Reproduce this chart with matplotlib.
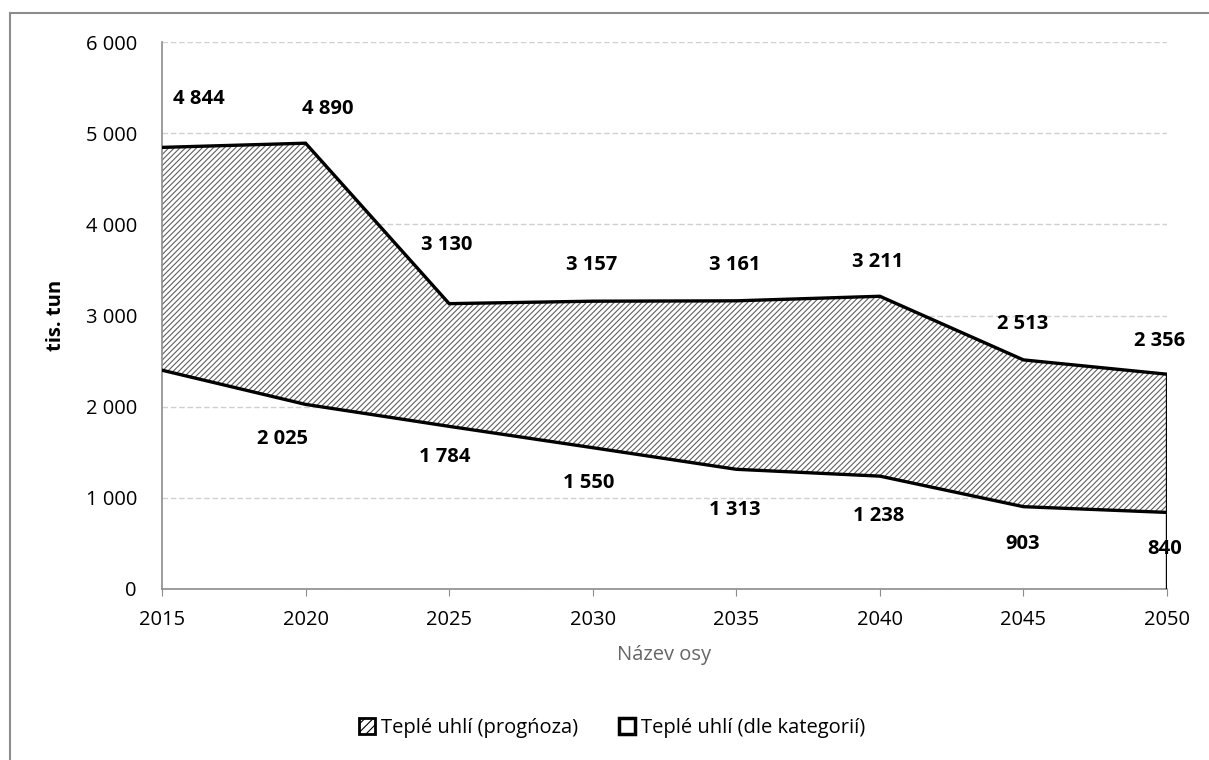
import numpy as np
import matplotlib
import matplotlib.pyplot as plt
from matplotlib.patches import Rectangle, Patch
from matplotlib.ticker import FuncFormatter

matplotlib.use("Agg")

# Teplé uhlí, tis. tun
roky = [2015, 2020, 2025, 2030, 2035, 2040, 2045, 2050]
prognoza = [4844, 4890, 3130, 3157, 3161, 3211, 2513, 2356]
dle_kategorii = [2400, 2025, 1784, 1550, 1313, 1238, 903, 840]
# 2015 hodnota dle kategorií se v grafu nepopisuje
popis_dole = [False, True, True, True, True, True, True, True]

# posuny popisků (px) – nad horní řadou / pod dolní řadou
posun_nahore = [48, 34, 59, 36, 36, 34, 36, 33]
posun_dole = [38, 35, 31, 35, 41, 40, 37, 37]
posun_x_nahore = [37, 22, -2, -1, -2, -2, -1, -7]
posun_x_dole = [0, -23, -4, -4, -2, -1, -1, -2]

FONT = ["Open Sans", "DejaVu Sans"]
plt.rcParams["font.family"] = FONT
plt.rcParams["hatch.linewidth"] = 0.8

W, H = 1209, 760
fig = plt.figure(figsize=(W / 100, H / 100), dpi=100)
ax = fig.add_axes([162 / W, 1 - 589 / H, (1167 - 162) / W, (589 - 42) / H])

x = np.array(roky)
horni = np.array(prognoza)
dolni = np.array(dle_kategorii)

# šrafovaná plocha mezi řadami
ax.fill_between(x, dolni, horni, facecolor="white", edgecolor="#606060",
                hatch="//////", linewidth=0, zorder=2)

# obrysy
ax.plot(x, horni, color="black", lw=2.4, solid_joinstyle="miter", zorder=4)
ax.plot(x, dolni, color="black", lw=2.4, solid_joinstyle="miter", zorder=4)
ax.plot([x[-1], x[-1]], [0, horni[-1]], color="black", lw=2.4, zorder=4)

ax.set_xlim(2015, 2050)
ax.set_ylim(0, 6000)
ax.set_xticks(roky)
ax.set_yticks(range(0, 6001, 1000))
ax.yaxis.set_major_formatter(FuncFormatter(lambda v, p: f"{int(v):,}".replace(",", " ")))

ax.grid(axis="y", color="#d0d0d0", linestyle=(0, (4, 2)), linewidth=1.0, zorder=0)
ax.set_axisbelow(True)
for s in ["top", "right"]:
    ax.spines[s].set_visible(False)
for s in ["left", "bottom"]:
    ax.spines[s].set_color("#8c8c8c")
    ax.spines[s].set_linewidth(1.2)
ax.tick_params(axis="y", length=0, pad=18, labelsize=14.5)
ax.tick_params(axis="x", length=5, color="#8c8c8c", pad=10, labelsize=14.5)

ax.set_ylabel("tis. tun", fontsize=14.5, fontweight="bold", labelpad=14)
ax.set_xlabel("Název osy", fontsize=14.5, color="#666666", labelpad=11)

fmt = lambda v: f"{v:,}".replace(",", " ")
for i, rok in enumerate(roky):
    ax.annotate(fmt(prognoza[i]), (rok, prognoza[i]),
                xytext=(posun_x_nahore[i] * 0.72, posun_nahore[i] * 0.72),
                textcoords="offset points", ha="center", va="center",
                fontsize=14.5, fontweight="bold", zorder=6)
    if popis_dole[i]:
        ax.annotate(fmt(dle_kategorii[i]), (rok, dle_kategorii[i]),
                    xytext=(posun_x_dole[i] * 0.72, -posun_dole[i] * 0.72),
                    textcoords="offset points", ha="center", va="center",
                    fontsize=14.5, fontweight="bold", zorder=6)

# legenda
h1 = Patch(facecolor="white", edgecolor="black", hatch="////", linewidth=2.0)
h2 = Patch(facecolor="white", edgecolor="black", linewidth=2.5)
fig.legend([h1, h2], ["Teplé uhlí (progńoza)", "Teplé uhlí (dle kategorií)"],
           loc="center", bbox_to_anchor=(612 / W, 1 - 728 / H), ncol=2,
           frameon=False, fontsize=14.5, handlelength=0.8, handleheight=0.8,
           handletextpad=0.3, columnspacing=2.0)

# rámeček grafu
fig.patches.append(Rectangle((9.5 / W, -0.1), 1.2, 1 - 12.5 / H + 0.1,
                             transform=fig.transFigure, fill=False,
                             edgecolor="#8c8c8c", linewidth=1.5))

fig.savefig("out.png", dpi=100)
